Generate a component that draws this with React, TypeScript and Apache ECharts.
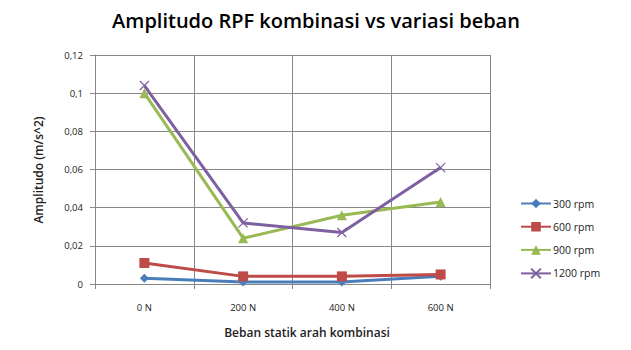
import React, { useEffect, useRef } from "react";
import * as echarts from "echarts";

const categories = ["0 N", "200 N", "400 N", "600 N"];
const rpm300 = [0.003, 0.001, 0.001, 0.004];
const rpm600 = [0.011, 0.004, 0.004, 0.005];
const rpm900 = [0.1, 0.024, 0.036, 0.043];
const rpm1200 = [0.104, 0.032, 0.027, 0.061];
const seriesNames = ["300 rpm", "600 rpm", "900 rpm", "1200 rpm"];

const FONT = "Open Sans";

export default function App() {
  const ref = useRef<HTMLDivElement>(null);
  useEffect(() => {
    if (!ref.current) return;
    const chart = echarts.init(ref.current, null, { renderer: "svg" });
    const gridColor = "#878787";
    const crossPath = "path://M0,0L10,10M10,0L0,10";
    const mk = (name: string, data: number[], color: string, symbol: string, size: number, extra: any = {}) => ({
      name,
      type: "line",
      data,
      symbol,
      symbolSize: size,
      lineStyle: { color, width: 3 },
      itemStyle: { color, ...extra },
      emphasis: { disabled: true },
    });
    chart.setOption({
      animation: false,
      textStyle: { fontFamily: FONT },
      title: {
        text: "Amplitudo RPF kombinasi vs variasi beban",
        left: 311,
        top: 5,
        textAlign: "center",
        textStyle: { fontFamily: FONT, fontSize: 20, fontWeight: 600, color: "#000" },
      },
      grid: { left: 95, right: 141, top: 55, bottom: 66, containLabel: false },
      legend: {
        orient: "vertical",
        left: 515,
        top: 193,
        itemWidth: 30,
        itemHeight: 12,
        itemGap: 12.2,
        textStyle: { fontFamily: FONT, fontSize: 10.5, color: "#222", padding: [0, 0, 0, -3] },
        data: seriesNames,
      },
      xAxis: {
        type: "category",
        data: categories,
        boundaryGap: true,
        axisLine: { lineStyle: { color: gridColor } },
        axisTick: { show: true, length: 5, lineStyle: { color: gridColor } },
        axisLabel: { fontFamily: FONT, fontSize: 9.5, color: "#222", margin: 18 },
        splitLine: { show: true, lineStyle: { color: gridColor } },
      },
      yAxis: {
        type: "value",
        min: 0,
        max: 0.12,
        interval: 0.02,
        axisLine: { show: true, lineStyle: { color: gridColor } },
        axisTick: { show: true, length: 5, lineStyle: { color: gridColor } },
        axisLabel: {
          fontFamily: FONT,
          fontSize: 9.5,
          color: "#222",
          margin: 12,
          formatter: (v: number) => String(Number(v.toFixed(2))).replace(".", ","),
        },
        splitLine: { show: true, lineStyle: { color: gridColor } },
      },
      graphic: [
        {
          type: "text",
          x: 38,
          y: 170,
          rotation: Math.PI / 2,
          style: {
            text: "Amplitudo (m/s^2)",
            fontFamily: FONT,
            fontSize: 12,
            fontWeight: 600,
            fill: "#222",
            align: "center",
            verticalAlign: "middle",
          },
        },
        {
          type: "text",
          x: 307,
          y: 332,
          style: {
            text: "Beban statik arah kombinasi",
            fontFamily: FONT,
            fontSize: 12,
            fontWeight: 600,
            fill: "#222",
            align: "center",
            verticalAlign: "middle",
          },
        },
      ],
      series: [
        mk(seriesNames[0], rpm300, "#4A7EBB", "diamond", 9),
        mk(seriesNames[1], rpm600, "#BE4B48", "rect", 10),
        mk(seriesNames[2], rpm900, "#98B954", "triangle", 10),
        mk(seriesNames[3], rpm1200, "#7D60A0", crossPath, 9, { borderColor: "#7D60A0", borderWidth: 1.2 }),
      ],
    });
    return () => chart.dispose();
  }, []);
  return <div ref={ref} style={{ position: "fixed", left: 0, top: 0, width: 631, height: 350, background: "#fff" }} />;
}
